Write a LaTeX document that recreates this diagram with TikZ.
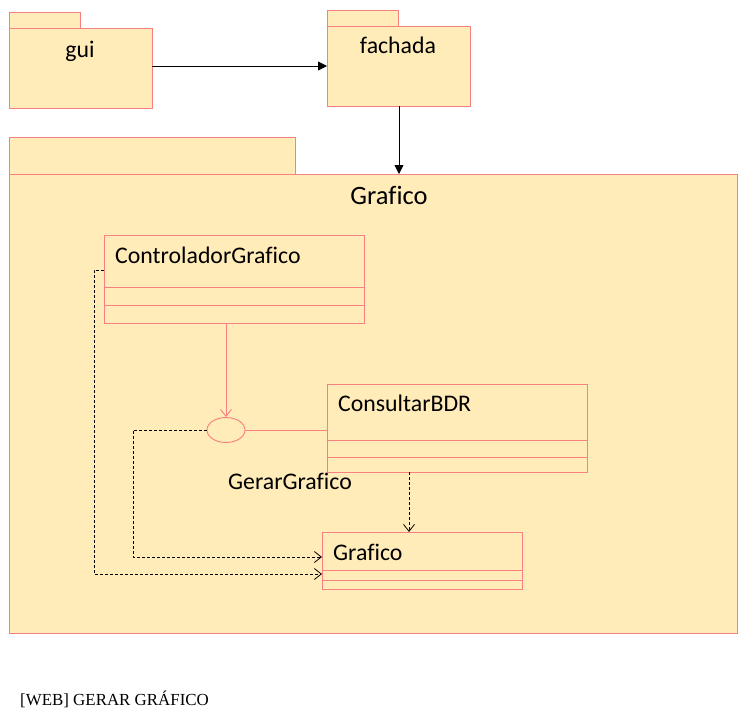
\documentclass[tikz,border=0pt]{standalone}
\usepackage{fontspec}
\setmainfont[Ligatures=NoCommon]{Carlito}
\newfontfamily\capfont{Liberation Serif}
\usetikzlibrary{arrows.meta,shapes.geometric}
\definecolor{pkgfill}{RGB}{255,236,185}
\definecolor{pkgline}{RGB}{248,128,128}
\tikzset{
  pkg/.style={draw=pkgline, fill=pkgfill, line width=0.9pt},
  cls/.style={draw=pkgline, line width=0.9pt},
  lbl/.style={inner sep=0pt, font=\fontsize{23.8}{26}\selectfont},
  dep/.style={densely dashed, line width=0.8pt, -{Straight Barb[length=7pt,width=11pt]}},
  nav/.style={line width=0.9pt, -{Triangle[length=9pt,width=9pt]}},
}
\begin{document}
\begin{tikzpicture}[x=1pt,y=-1pt]
\useasboundingbox (0,0) rectangle (749,717);
% gui package
\draw[pkg] (9,12) rectangle (80,28);
\draw[pkg] (9,28) rectangle (152,108);
\node[lbl, anchor=base] (guit) at (80,58) {gui};
\coordinate (guiR) at (152,66);
% fachada package
\draw[pkg] (327,10) rectangle (398,26);
\draw[pkg] (327,26) rectangle (470,106);
\node[lbl, anchor=base] (facht) at (398,54) {fachada};
\coordinate (fachL) at (327,66);
\coordinate (fachB) at (399,106);
% Grafico package
\draw[pkg] (9,137) rectangle (295,174);
\draw[pkg] (9,174) rectangle (737,633);
\node[inner sep=0pt, font=\fontsize{26.5}{30}\selectfont, anchor=base] (grt) at (389,204) {Grafico};
\coordinate (grT) at (399,174);
\draw[nav] (guiR) -- (fachL);
\draw[nav] (fachB) -- (grT);
% ControladorGrafico
\draw[cls] (104,235) rectangle (364,323);
\draw[cls] (104,287) -- (364,287);
\draw[cls] (104,305) -- (364,305);
\node[lbl, anchor=base west] (ctrl) at (115,263) {ControladorGrafico};
\coordinate (ctrlB) at (226,323);
\coordinate (ctrlL) at (104,270);
% ConsultarBDR
\draw[cls] (327,384) rectangle (587,472);
\draw[cls] (327,440) -- (587,440);
\draw[cls] (327,457) -- (587,457);
\node[lbl, anchor=base west] (cons) at (338,411) {ConsultarBDR};
\coordinate (consL) at (327,430);
\coordinate (consB) at (409,472);
% Grafico class
\draw[cls] (322,532) rectangle (522,589);
\draw[cls] (322,570) -- (522,570);
\draw[cls] (322,580) -- (522,580);
\node[lbl, anchor=base west] (graf) at (333,560) {Grafico};
\coordinate (grafT) at (409,532);
\coordinate (grafL1) at (322,557);
\coordinate (grafL2) at (322,574);
% interface
\node[draw=pkgline, line width=0.9pt, ellipse, minimum width=38pt, minimum height=25pt, inner sep=0pt] (iface) at (226,430) {};
\node[lbl, anchor=base] (ifacet) at (290,489) {GerarGrafico};
\draw[pkgline, line width=0.9pt] (iface.east) -- (consL);
\draw[pkgline, line width=0.9pt, -{Straight Barb[length=7pt,width=11pt]}] (ctrlB) -- (iface.north);
% dependencies
\draw[dep] (iface.west) -- (133,430) -- (133,557) -- (grafL1);
\draw[dep] (ctrlL) -- (94,270) -- (94,574) -- (grafL2);
\draw[dep] (consB) -- (grafT);
% caption
\node[inner sep=0pt, anchor=base west, font=\capfont\fontsize{16.9}{19}\selectfont] (cap) at (20,705) {[WEB] GERAR GRÁFICO};
\end{tikzpicture}
\end{document}
